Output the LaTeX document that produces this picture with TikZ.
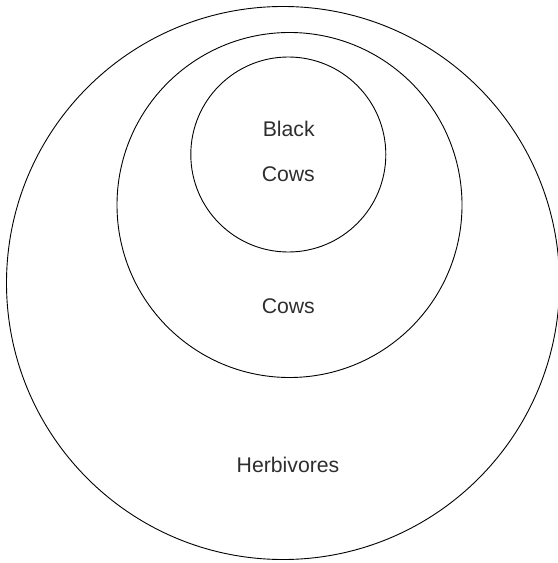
\documentclass[tikz,border=0pt]{standalone}
\usepackage{fontspec}
\setmainfont{Liberation Sans}
\begin{document}
\begin{tikzpicture}[x=1bp,y=-1bp,
  ring/.style={draw=black, line width=0.9bp, circle, inner sep=0pt},
  lbl/.style={text=black!82, font=\fontsize{21.3}{25}\selectfont, inner sep=0pt}]
\useasboundingbox (0,0) rectangle (558,563);
\begin{scope}
\clip (0,0) rectangle (558,563);
\node[ring, minimum size=553bp] (herb) at (283,283) {};
\end{scope}
\node[ring, minimum size=345bp] (cows) at (289.5,205) {};
\node[ring, minimum size=195bp] (black) at (288.3,154.5) {};
\node[lbl] (t1) at (288.7,129) {Black};
\node[lbl] (t2) at (288.3,174) {Cows};
\node[lbl] (t3) at (288.3,306) {Cows};
\node[lbl] (t4) at (288,465) {Herbivores};
\end{tikzpicture}
\end{document}
